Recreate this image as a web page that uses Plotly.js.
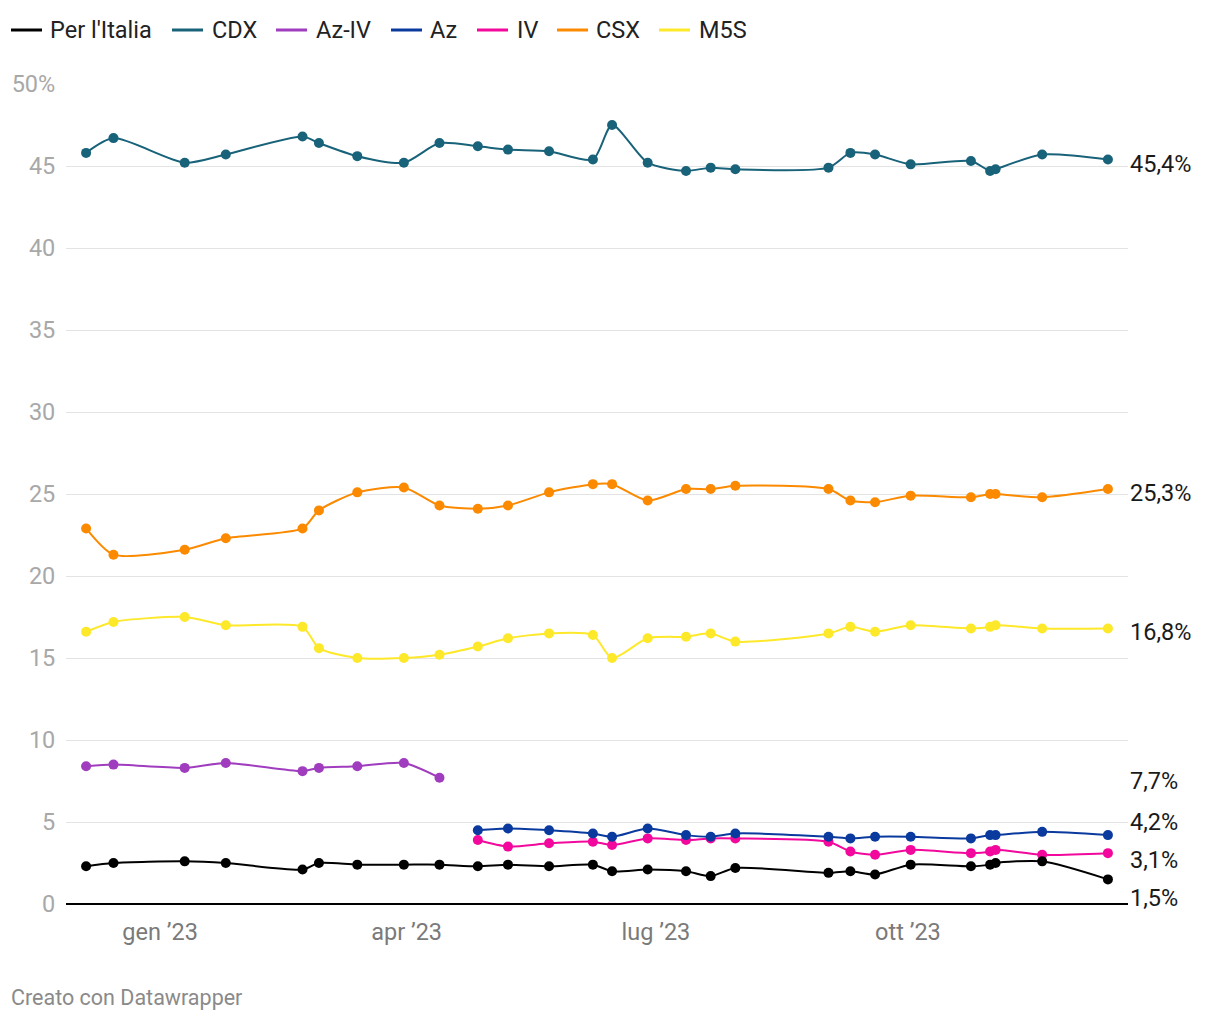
<!DOCTYPE html>
<html><head><meta charset="utf-8">
<script src="https://cdn.plot.ly/plotly-3.0.1.min.js"></script>
<style>body{margin:0;background:#fff}#chart{width:1220px;height:1020px}</style>
</head><body><div id="chart"></div>
<script>
const dates = ["2022-12-05","2022-12-15","2023-01-10","2023-01-25","2023-02-22","2023-02-28","2023-03-14","2023-03-31","2023-04-13","2023-04-27","2023-05-08","2023-05-23","2023-06-08","2023-06-15","2023-06-28","2023-07-12","2023-07-21","2023-07-30","2023-09-02","2023-09-10","2023-09-19","2023-10-02","2023-10-24","2023-10-31","2023-11-02","2023-11-19","2023-12-13"];
const datesAzIV = dates.slice(0, 9);
const datesAzSplit = dates.slice(9);

const perItalia = [2.3,2.5,2.6,2.5,2.1,2.5,2.4,2.4,2.4,2.3,2.4,2.3,2.4,2.0,2.1,2.0,1.7,2.2,1.9,2.0,1.8,2.4,2.3,2.4,2.5,2.6,1.5];
const cdx = [45.8,46.7,45.2,45.7,46.8,46.4,45.6,45.2,46.4,46.2,46.0,45.9,45.4,47.5,45.2,44.7,44.9,44.8,44.9,45.8,45.7,45.1,45.3,44.7,44.8,45.7,45.4];
const azIV = [8.4,8.5,8.3,8.6,8.1,8.3,8.4,8.6,7.7];
const az = [4.5,4.6,4.5,4.3,4.1,4.6,4.2,4.1,4.3,4.1,4.0,4.1,4.1,4.0,4.2,4.2,4.4,4.2];
const iv = [3.9,3.5,3.7,3.8,3.6,4.0,3.9,4.0,4.0,3.8,3.2,3.0,3.3,3.1,3.2,3.3,3.0,3.1];
const csx = [22.9,21.3,21.6,22.3,22.9,24.0,25.1,25.4,24.3,24.1,24.3,25.1,25.6,25.6,24.6,25.3,25.3,25.5,25.3,24.6,24.5,24.9,24.8,25.0,25.0,24.8,25.3];
const m5s = [16.6,17.2,17.5,17.0,16.9,15.6,15.0,15.0,15.2,15.7,16.2,16.5,16.4,15.0,16.2,16.3,16.5,16.0,16.5,16.9,16.6,17.0,16.8,16.9,17.0,16.8,16.8];

const seriesNames = ["Per l'Italia","CDX","Az-IV","Az","IV","CSX","M5S"];
const yTickVals = [0,5,10,15,20,25,30,35,40,45,50];
const yTickText = ["0","5","10","15","20","25","30","35","40","45","50%"];
const xTickVals = ["2023-01-01","2023-04-01","2023-07-01","2023-10-01"];
const xTickText = ["gen \u201923","apr \u201923","lug \u201923","ott \u201923"];

const colors = {"Per l'Italia":"#000000","CDX":"#18627a","Az-IV":"#a03cbe","Az":"#0a3a9e","IV":"#f2089c","CSX":"#fb8a00","M5S":"#fde82a"};
const seriesData = {
  "Per l'Italia":[dates, perItalia],
  "CDX":[dates, cdx],
  "Az-IV":[datesAzIV, azIV],
  "Az":[datesAzSplit, az],
  "IV":[datesAzSplit, iv],
  "CSX":[dates, csx],
  "M5S":[dates, m5s]
};
const labelShift = {"Per l'Italia":-19,"CDX":-5,"Az-IV":-3,"Az":13,"IV":-7,"CSX":-4,"M5S":-4};

// plot-area geometry (pixels) for converting legend positions
const W = 1220, H = 1020, ML = 66, MR = 92, MT = 84, MB = 116;
const PW = W - ML - MR, PH = H - MT - MB;
const px2x = p => (p - ML) / PW;
const py2y = p => (H - MB - p) / PH;
// legend item left edges (line start, text start) in pixels
const legendPos = {"Per l'Italia":[11,48],"CDX":[172,210],"Az-IV":[276,314],"Az":[391,428],"IV":[477,515],"CSX":[557,594],"M5S":[659,697]};
const legendY = 30;

const traces = [];
const drawOrder = ["M5S","CSX","Az-IV","IV","Az","CDX","Per l'Italia"];
drawOrder.forEach(n => {
  const [x, y] = seriesData[n];
  traces.push({x: x, y: y, type:'scatter', mode:'lines+markers', name:n, showlegend:false,
    line:{color:colors[n], width:2, shape:'spline', smoothing:0.7},
    marker:{color:colors[n], size:10}, cliponaxis:false, hoverinfo:'skip'});
});

const annotations = seriesNames.map(n => {
  const y = seriesData[n][1];
  const v = y[y.length-1];
  return {xref:'paper', x:1, xanchor:'left', yref:'y', y:v, yanchor:'middle', yshift:labelShift[n],
    text: v.toFixed(1).replace('.', ',') + '%', showarrow:false,
    font:{family:'Roboto', size:23.5, color:'#1a1a1a'}};
});
const shapes = [];
seriesNames.forEach(n => {
  const [l, t] = legendPos[n];
  shapes.push({type:'line', xref:'paper', yref:'paper', x0:px2x(l), x1:px2x(l+31), y0:py2y(legendY), y1:py2y(legendY),
    line:{color:colors[n], width:3}});
  annotations.push({xref:'paper', x:px2x(t), xanchor:'left', yref:'paper', y:py2y(legendY), yanchor:'middle',
    text:n, showarrow:false, font:{family:'Roboto', size:23.5, color:'#222'}});
});
annotations.push({xref:'paper', x:px2x(9), xanchor:'left', yref:'paper', y:py2y(997), yanchor:'middle',
  text:'Creato con Datawrapper', showarrow:false, font:{family:'Roboto', size:21.5, color:'#8a8a8a'}});

const layout = {
  width:W, height:H,
  margin:{l:ML, r:MR, t:MT, b:MB},
  paper_bgcolor:'#fff', plot_bgcolor:'#fff',
  font:{family:'Roboto', color:'#333'},
  showlegend:false,
  xaxis:{type:'date', range:['2022-11-27 16:00','2023-12-20 08:00'], tickvals:xTickVals, ticktext:xTickText,
    showgrid:false, zeroline:false, showline:false, ticks:'outside', ticklen:7, tickcolor:'rgba(0,0,0,0)',
    tickfont:{family:'Roboto', size:23.5, color:'#7a7a7a'}},
  yaxis:{range:[0,50], tickvals:yTickVals, ticktext:yTickText, showgrid:true, gridcolor:'#e3e3e3', gridwidth:1,
    zeroline:true, zerolinecolor:'#000', zerolinewidth:2, showline:false, ticks:'outside', ticklen:5, tickcolor:'rgba(0,0,0,0)',
    tickfont:{family:'Roboto', size:23.5, color:'#a8a8a8'}},
  shapes: shapes,
  annotations: annotations
};
Plotly.newPlot('chart', traces, layout, {displayModeBar:false, staticPlot:true});
</script></body></html>
